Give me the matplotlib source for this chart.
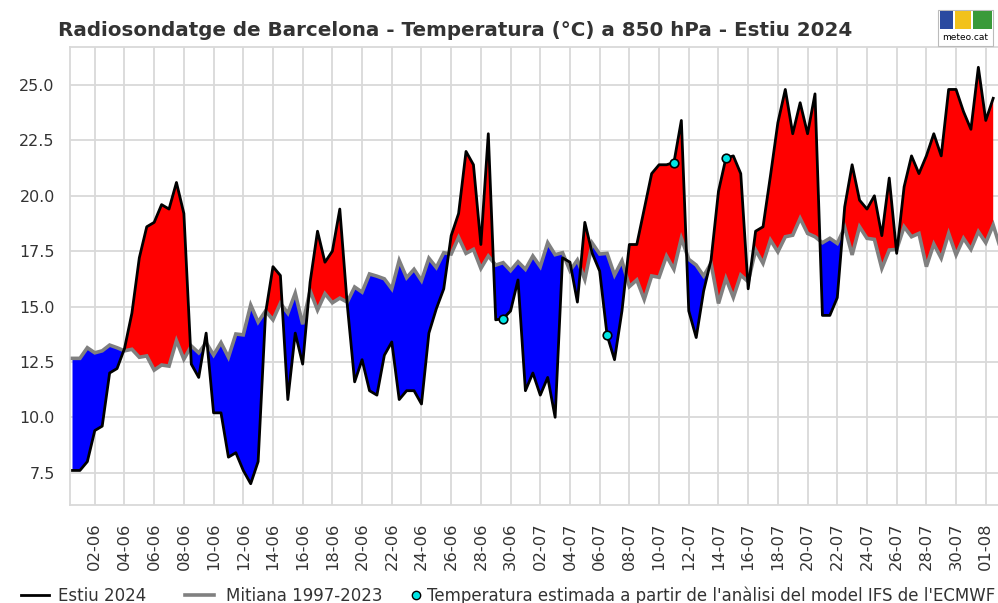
import matplotlib
matplotlib.use("Agg")
import matplotlib.pyplot as plt
import matplotlib.dates as mdates
from matplotlib.patches import Rectangle
from matplotlib.lines import Line2D
import numpy as np
import pandas as pd

# ---------------- data ----------------
start_time = "2024-05-31 12:00"
obs_2024 = [7.6, 7.6, 8.0, 9.4, 9.6, 12.0, 12.2, 13.1, 14.7, 17.2,
            18.6, 18.8, 19.6, 19.4, 20.6, 19.2, 12.4, 11.8, 13.8, 10.2,
            10.2, 8.2, 8.4, 7.6, 7.0, 8.0, 14.7, 16.8, 16.4, 10.8,
            13.8, 12.4, 16.1, 18.4, 17.0, 17.5, 19.4, 15.1, 11.6, 12.6,
            11.2, 11.0, 12.8, 13.4, 10.8, 11.2, 11.2, 10.6, 13.8, 14.9,
            15.8, 18.2, 19.2, 22.0, 21.4, 17.8, 22.8, 14.4, 14.45, 14.8,
            16.2, 11.2, 12.0, 11.0, 11.8, 10.0, 17.2, 17.0, 15.2, 18.8,
            17.4, 16.6, 13.7, 12.6, 14.8, 17.8, 17.8, 19.4, 21.0, 21.4,
            21.4, 21.5, 23.4, 14.8, 13.6, 15.7, 17.1, 20.2, 21.7, 21.8,
            21.0, 15.8, 18.4, 18.6, 20.9, 23.3, 24.8, 22.8, 24.2, 22.8,
            24.6, 14.6, 14.6, 15.4, 19.5, 21.4, 19.8, 19.4, 20.0, 18.2,
            20.8, 17.4, 20.4, 21.8, 21.0, 21.8, 22.8, 21.8, 24.8, 24.8,
            23.8, 23.0, 25.8, 23.4, 24.4]
mean_1997_2023 = [12.66, 12.66, 13.14, 12.91, 13.0, 13.26, 13.14, 13.0, 13.07, 12.71,
                  12.77, 12.13, 12.36, 12.31, 13.46, 12.62, 13.22, 12.91, 13.37, 12.81,
                  13.37, 12.71, 13.76, 13.72, 15.07, 14.3, 14.8, 14.4, 15.15, 14.7,
                  15.6, 14.2, 15.72, 14.84, 15.58, 15.17, 15.38, 15.2, 15.88, 15.65,
                  16.47, 16.37, 16.25, 15.8, 17.08, 16.3, 16.68, 16.17, 17.18, 16.76,
                  17.43, 17.37, 18.12, 17.4, 17.58, 16.72, 17.28, 16.87, 16.98, 16.62,
                  17.02, 16.68, 17.28, 16.8, 17.88, 17.34, 17.43, 16.62, 17.1, 16.22,
                  17.86, 17.37, 17.4, 16.42, 17.06, 15.9, 16.2, 15.32, 16.38, 16.32,
                  17.28, 16.68, 18.08, 17.13, 16.87, 16.38, 16.95, 15.14, 16.27, 15.41,
                  16.42, 16.12, 17.55, 16.95, 18.0, 17.47, 18.15, 18.22, 18.98, 18.3,
                  18.15, 17.88, 18.08, 17.85, 18.57, 17.33, 18.6, 18.08, 18.03, 16.72,
                  17.55, 17.58, 18.6, 18.15, 18.3, 16.8, 17.82, 17.18, 18.3, 17.33,
                  18.08, 17.58, 18.38, 17.88, 18.68, 17.6]
estimated_idx = [58, 72, 81, 88]
tick_dates = pd.date_range("2024-06-02", "2024-08-01", freq="2D")
tick_labels = [d.strftime("%d-%m") for d in tick_dates]

title = "Radiosondatge de Barcelona - Temperatura (°C) a 850 hPa - Estiu 2024"
legend_labels = ["Estiu 2024", "Mitiana 1997-2023",
                 "Temperatura estimada a partir de l'anàlisi del model IFS de l'ECMWF"]

# ---------------- build ----------------
t_mean = pd.date_range(start_time, periods=len(mean_1997_2023), freq="12h")
t_obs = t_mean[:len(obs_2024)]
x_obs = mdates.date2num(t_obs.to_pydatetime())
x_mean = mdates.date2num(t_mean.to_pydatetime())
obs = np.array(obs_2024)
mean = np.array(mean_1997_2023)
mean_obs = mean[:len(obs)]

W, H = 998, 603
fig = plt.figure(figsize=(W / 100, H / 100), dpi=100)
fig.patch.set_facecolor("white")
ax = fig.add_axes([70 / W, 1 - 505 / H, (1003 - 70) / W, (505 - 47) / H])

ax.fill_between(x_obs, obs, mean_obs, where=obs >= mean_obs, interpolate=True,
                color="#ff0000", linewidth=0, zorder=2)
ax.fill_between(x_obs, obs, mean_obs, where=obs <= mean_obs, interpolate=True,
                color="#0000ff", linewidth=0, zorder=2)
ax.plot(x_mean, mean, color="#808080", lw=2.6, zorder=3, solid_joinstyle="miter")
ax.plot(x_obs, obs, color="black", lw=2.0, zorder=4)
ax.scatter(x_obs[estimated_idx], obs[estimated_idx], s=38, facecolor="#00e5e5",
           edgecolor="black", linewidth=1.2, zorder=5)

x0 = x_obs[0]
ax.set_xlim(x0 - 2.5 / 14.85, x0 + (1003 - 72.5) / 14.85)
ax.set_ylim(6.04, 26.716)
ax.set_yticks([7.5, 10.0, 12.5, 15.0, 17.5, 20.0, 22.5, 25.0])
ax.set_yticklabels(["7.5", "10.0", "12.5", "15.0", "17.5", "20.0", "22.5", "25.0"])
ax.set_xticks(mdates.date2num(tick_dates.to_pydatetime()))
ax.set_xticklabels(tick_labels, rotation=90)

ax.grid(True, color="#d9d9d9", lw=1.3, zorder=0)
ax.set_axisbelow(True)
for s in ax.spines.values():
    s.set_color("#d9d9d9")
    s.set_linewidth(1.3)
ax.tick_params(axis="both", length=0, colors="#333333")
ax.tick_params(axis="x", pad=12.5, labelsize=11.8)
ax.tick_params(axis="y", pad=11, labelsize=11.4)

fig.text(58 / W, 1 - 30 / H, title, fontsize=14.35, fontweight="bold",
         color="#333333", va="center", ha="left")

handles = [Line2D([], [], color="black", lw=2.0),
           Line2D([], [], color="#808080", lw=2.6),
           Line2D([], [], marker="o", ls="none", markersize=6,
                  markerfacecolor="#00e5e5", markeredgecolor="black")]
legend_x = [21, 185, 409]
handle_len = [1.65, 1.75, 0.8]
text_pad = [0.55, 0.7, 0.3]
for h, lab, lx, hl, tp in zip(handles, legend_labels, legend_x, handle_len, text_pad):
    fig.legend([h], [lab], loc="center left", bbox_to_anchor=(lx / W, 1 - 596 / H),
               frameon=False, fontsize=12.0, handlelength=hl,
               handletextpad=tp, labelcolor="#333333", borderaxespad=0, borderpad=0)

# meteo.cat logo (approximate)
tf = fig.transFigure
fig.patches.append(Rectangle((938 / W, 1 - 46 / H), 55 / W, 36 / H, transform=tf,
                             facecolor="white", edgecolor="#bbbbbb", lw=0.8))
fig.patches.append(Rectangle((940 / W, 1 - 29 / H), 13 / W, 18 / H, transform=tf,
                             facecolor="#2a4aa0", edgecolor="none"))
fig.patches.append(Rectangle((955 / W, 1 - 29 / H), 16 / W, 18 / H, transform=tf,
                             facecolor="#f2c21b", edgecolor="none"))
fig.patches.append(Rectangle((973 / W, 1 - 29 / H), 19 / W, 18 / H, transform=tf,
                             facecolor="#3a9a3a", edgecolor="none"))
fig.text(965 / W, 1 - 38 / H, "meteo.cat", fontsize=6.5, ha="center", va="center",
         color="black")

fig.savefig("out.png", dpi=100)
